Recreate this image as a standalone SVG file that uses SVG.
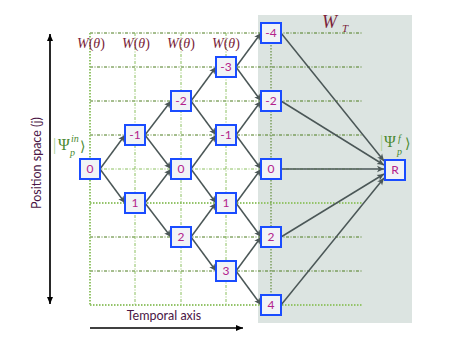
<svg xmlns="http://www.w3.org/2000/svg" width="452" height="339" viewBox="0 0 452 339">
<defs>
<marker id="ah" markerWidth="8" markerHeight="8" refX="7" refY="4" orient="auto" markerUnits="userSpaceOnUse">
<path d="M0,0.8 L7,4 L0,7.2 L1.8,4 Z" fill="#4b5757"/>
</marker>
<marker id="bh" markerWidth="8" markerHeight="8" refX="7" refY="4" orient="auto" markerUnits="userSpaceOnUse">
<path d="M0,1 L7,4 L0,7 Z" fill="#000"/>
</marker>
<style>
.dk{stroke:#4d7d1f;stroke-width:1;stroke-dasharray:3 1.5 1 1.5;fill:none}
.lt{stroke:#8cc060;stroke-width:1;stroke-dasharray:3 1.5 1 1.5;fill:none}
.ld{stroke:#94c46a;stroke-width:2;stroke-dasharray:1.5 1.5;fill:none}
.vd{stroke:#4d7d1f;stroke-width:1;stroke-dasharray:1.5 1.5;fill:none}
.node rect{fill:#f1f3f6;stroke:#1a4cff;stroke-width:2}
.node text{font-family:"Lato","Liberation Sans",sans-serif;font-size:12px;fill:#b3228c;text-anchor:middle}
.conn line{stroke:#4b5757;stroke-width:1.5;marker-end:url(#ah)}
.w{font-family:"Liberation Serif",serif;font-size:14px;fill:#7a1f3a}
.g{font-family:"Liberation Serif",serif;font-size:16px;fill:#4a8a30}
.gs{font-family:"Liberation Serif",serif;font-size:10px;font-style:italic;fill:#4a8a30}
.gb{font-family:"DejaVu Serif",serif;font-size:14px;fill:#4a8a30}
.ax{font-family:"Lato","Liberation Sans",sans-serif;font-size:12.5px;fill:#4a1646}
</style>
</defs>
<rect x="258" y="15" width="154" height="308" fill="#dce4e1"/>
<g id="grid">
<line class="dk" x1="90" y1="33" x2="362" y2="33"/>
<line class="dk" x1="90" y1="67" x2="362" y2="67"/>
<line class="dk" x1="90" y1="101" x2="362" y2="101"/>
<line class="dk" x1="90" y1="135" x2="362" y2="135"/>
<line class="lt" x1="90" y1="169" x2="362" y2="169"/>
<line class="ld" x1="90" y1="203" x2="362" y2="203"/>
<line class="dk" x1="90" y1="237" x2="362" y2="237"/>
<line class="dk" x1="90" y1="271" x2="362" y2="271"/>
<line class="ld" x1="90" y1="305" x2="362" y2="305"/>
<line class="ld" x1="90" y1="33" x2="90" y2="305"/>
<line class="lt" x1="135" y1="33" x2="135" y2="305"/>
<line class="lt" x1="181" y1="33" x2="181" y2="305"/>
<line class="lt" x1="226" y1="33" x2="226" y2="305"/>
<line class="vd" x1="271" y1="33" x2="271" y2="305"/>
</g>
<g id="labels">
<text class="w" x="77" y="48"><tspan font-style="italic">W</tspan>(<tspan font-style="italic">θ</tspan>)</text>
<text class="w" x="122" y="48"><tspan font-style="italic">W</tspan>(<tspan font-style="italic">θ</tspan>)</text>
<text class="w" x="167" y="48"><tspan font-style="italic">W</tspan>(<tspan font-style="italic">θ</tspan>)</text>
<text class="w" x="212" y="48"><tspan font-style="italic">W</tspan>(<tspan font-style="italic">θ</tspan>)</text>
<text class="w" x="322" y="28" style="font-size:18px;font-style:italic">W</text>
<text class="w" x="342" y="32" style="font-size:11px;font-style:italic">T</text>
<text class="g" x="53" y="150" fill="#a8d090" style="fill:#a8d090">|</text>
<text class="g" x="58" y="150">Ψ</text>
<text class="gs" x="71" y="142">in</text>
<text class="gs" x="70" y="156">p</text>
<text class="gb" x="80" y="151">⟩</text>
<text class="g" x="380" y="147" style="fill:#a8d090">|</text>
<text class="g" x="384" y="147">Ψ</text>
<text class="gs" x="398" y="142">f</text>
<text class="gs" x="397" y="155">p</text>
<text class="gb" x="405" y="148">⟩</text>
<text class="ax" transform="translate(41,163) rotate(-90)" text-anchor="middle">Position space (j)</text>
<text class="ax" x="164" y="320" text-anchor="middle">Temporal axis</text>
<line x1="50" y1="304" x2="50" y2="34" stroke="#000" stroke-width="1.2" marker-end="url(#bh)"/>
<line x1="50" y1="34" x2="50" y2="304" stroke="#000" stroke-width="1.2" marker-end="url(#bh)"/>
<line x1="90" y1="328" x2="243" y2="328" stroke="#000" stroke-width="1.5" marker-end="url(#bh)"/>
</g>
<g id="connectors" class="conn">
<line x1="100" y1="169" x2="125" y2="135"/>
<line x1="100" y1="169" x2="125" y2="203"/>
<line x1="145" y1="135" x2="171" y2="101"/>
<line x1="145" y1="135" x2="171" y2="169"/>
<line x1="145" y1="203" x2="171" y2="169"/>
<line x1="145" y1="203" x2="171" y2="237"/>
<line x1="191" y1="101" x2="216" y2="67"/>
<line x1="191" y1="101" x2="216" y2="135"/>
<line x1="191" y1="169" x2="216" y2="135"/>
<line x1="191" y1="169" x2="216" y2="203"/>
<line x1="191" y1="237" x2="216" y2="203"/>
<line x1="191" y1="237" x2="216" y2="271"/>
<line x1="236" y1="67" x2="261" y2="33"/>
<line x1="236" y1="67" x2="261" y2="101"/>
<line x1="236" y1="135" x2="261" y2="101"/>
<line x1="236" y1="135" x2="261" y2="169"/>
<line x1="236" y1="203" x2="261" y2="169"/>
<line x1="236" y1="203" x2="261" y2="237"/>
<line x1="236" y1="271" x2="261" y2="237"/>
<line x1="236" y1="271" x2="261" y2="305"/>
<line x1="281" y1="33" x2="384" y2="161"/>
<line x1="281" y1="101" x2="384" y2="165"/>
<line x1="281" y1="169" x2="384" y2="169"/>
<line x1="281" y1="237" x2="384" y2="174"/>
<line x1="281" y1="305" x2="384" y2="178"/>
</g>
<g id="n0" class="node"><rect x="80" y="159" width="20" height="20"/><text x="90" y="173">0</text></g>
<g id="n1m1" class="node"><rect x="125" y="125" width="20" height="20"/><text x="135" y="139">-1</text></g>
<g id="n1p1" class="node"><rect x="125" y="193" width="20" height="20"/><text x="135" y="207">1</text></g>
<g id="n2m2" class="node"><rect x="171" y="91" width="20" height="20"/><text x="181" y="105">-2</text></g>
<g id="n2z" class="node"><rect x="171" y="159" width="20" height="20"/><text x="181" y="173">0</text></g>
<g id="n2p2" class="node"><rect x="171" y="227" width="20" height="20"/><text x="181" y="241">2</text></g>
<g id="n3m3" class="node"><rect x="216" y="57" width="20" height="20"/><text x="226" y="71">-3</text></g>
<g id="n3m1" class="node"><rect x="216" y="125" width="20" height="20"/><text x="226" y="139">-1</text></g>
<g id="n3p1" class="node"><rect x="216" y="193" width="20" height="20"/><text x="226" y="207">1</text></g>
<g id="n3p3" class="node"><rect x="216" y="261" width="20" height="20"/><text x="226" y="275">3</text></g>
<g id="n4m4" class="node"><rect x="261" y="23" width="20" height="20"/><text x="271" y="37">-4</text></g>
<g id="n4m2" class="node"><rect x="261" y="91" width="20" height="20"/><text x="271" y="105">-2</text></g>
<g id="n4z" class="node"><rect x="261" y="159" width="20" height="20"/><text x="271" y="173">0</text></g>
<g id="n4p2" class="node"><rect x="261" y="227" width="20" height="20"/><text x="271" y="241">2</text></g>
<g id="n4p4" class="node"><rect x="261" y="295" width="20" height="20"/><text x="271" y="309">4</text></g>
<g id="nR" class="node"><rect x="385" y="160" width="20" height="20"/><text x="395" y="174">R</text></g>
</svg>
